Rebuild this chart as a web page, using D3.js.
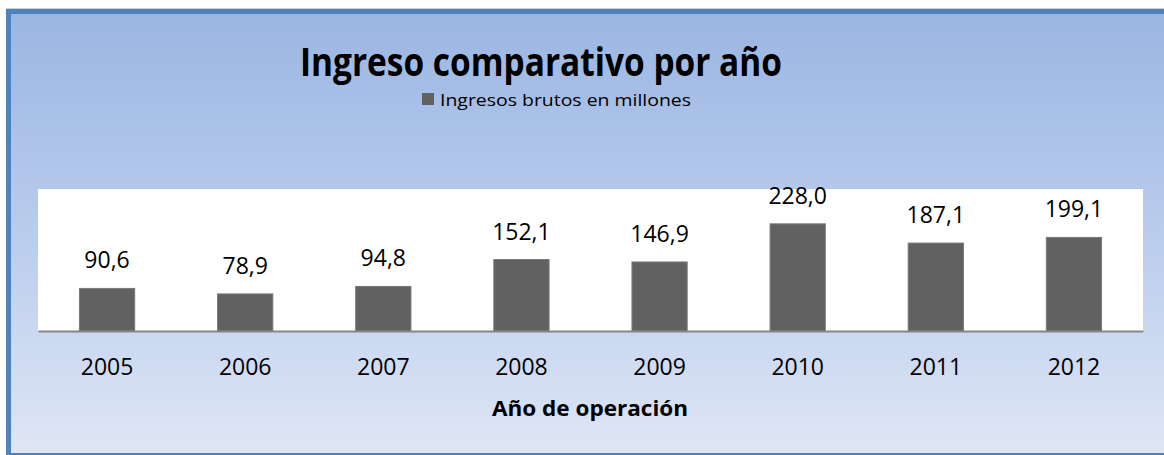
<!DOCTYPE html>
<html>
<head>
<meta charset="utf-8">
<script src="https://cdn.jsdelivr.net/npm/d3@7"></script>
<style>
  html, body { margin: 0; padding: 0; background: #fff; }
  svg { display: block; }
</style>
</head>
<body>
<div id="chart"></div>
<script>
const years = ["2005", "2006", "2007", "2008", "2009", "2010", "2011", "2012"];
const ingresos = [90.6, 78.9, 94.8, 152.1, 146.9, 228.0, 187.1, 199.1];
const yMax = 300;

const chartTitle = "Ingreso comparativo por año";
const seriesName = "Ingresos brutos en millones";
const xTitle = "Año de operación";

const width = 1164;
const height = 455;
const plot = { left: 38, right: 1143, top: 189, bottom: 331 };
const font = "'Open Sans', 'Noto Sans', sans-serif";
const barColor = "#616161";

const data = years.map((year, i) => ({ year, value: ingresos[i] }));

const svg = d3
  .select("#chart")
  .append("svg")
  .attr("width", width)
  .attr("height", height);

// background gradient like the Excel chart area
const grad = svg
  .append("defs")
  .append("linearGradient")
  .attr("id", "bg")
  .attr("x1", 0)
  .attr("y1", 0)
  .attr("x2", 0)
  .attr("y2", 1);
grad.append("stop").attr("offset", "0%").attr("stop-color", "#9bb6e2");
grad.append("stop").attr("offset", "45%").attr("stop-color", "#b6caec");
grad.append("stop").attr("offset", "100%").attr("stop-color", "#dfe6f5");

svg
  .append("line")
  .attr("x1", 6)
  .attr("x2", width)
  .attr("y1", 8.5)
  .attr("y2", 8.5)
  .attr("stroke", "#d0d0d0")
  .attr("stroke-width", 1);

svg
  .append("rect")
  .attr("x", 8.5)
  .attr("y", 11.5)
  .attr("width", 1170)
  .attr("height", 444)
  .attr("fill", "url(#bg)")
  .attr("stroke", "#4f81bd")
  .attr("stroke-width", 5);

svg
  .append("rect")
  .attr("x", plot.left)
  .attr("y", plot.top)
  .attr("width", plot.right - plot.left)
  .attr("height", plot.bottom - plot.top)
  .attr("fill", "#ffffff");

const x = d3
  .scaleBand()
  .domain(years)
  .range([plot.left, plot.right])
  .paddingInner(0.6)
  .paddingOuter(0.3);

const y = d3
  .scaleLinear()
  .domain([0, yMax])
  .range([plot.bottom, 190]);

svg
  .selectAll("rect.bar")
  .data(data)
  .enter()
  .append("rect")
  .attr("class", "bar")
  .attr("x", (d) => x(d.year))
  .attr("y", (d) => y(d.value))
  .attr("width", x.bandwidth())
  .attr("height", (d) => y(0) - y(d.value))
  .attr("fill", barColor)
  .attr("stroke", "#7a7a7a")
  .attr("stroke-width", 1);

svg
  .selectAll("text.val")
  .data(data)
  .enter()
  .append("text")
  .attr("class", "val")
  .attr("x", (d) => x(d.year) + x.bandwidth() / 2)
  .attr("y", (d) => y(d.value) - 20)
  .attr("text-anchor", "middle")
  .attr("font-family", font)
  .attr("font-size", 23)
  .attr("fill", "#000")
  .text((d) => d3.format(".1f")(d.value).replace(".", ","));

const xAxis = svg
  .append("g")
  .attr("transform", `translate(0,${plot.bottom})`)
  .call(d3.axisBottom(x).tickSize(0).tickSizeOuter(0));

xAxis.select(".domain").attr("stroke", "#868686").attr("stroke-width", 2);
xAxis
  .selectAll(".tick text")
  .attr("y", 44)
  .attr("dy", 0)
  .attr("font-family", font)
  .attr("font-size", 23)
  .attr("fill", "#000");

svg
  .append("text")
  .attr("x", 541)
  .attr("y", 76)
  .attr("text-anchor", "middle")
  .attr("font-family", font)
  .attr("font-weight", "bold")
  .attr("font-size", 39)
  .attr("textLength", 482)
  .attr("lengthAdjust", "spacingAndGlyphs")
  .text(chartTitle);

// legend
svg
  .append("rect")
  .attr("x", 422)
  .attr("y", 93)
  .attr("width", 12)
  .attr("height", 12)
  .attr("fill", barColor);

svg
  .append("text")
  .attr("x", 440)
  .attr("y", 106)
  .attr("font-family", font)
  .attr("font-size", 17)
  .attr("textLength", 251)
  .attr("lengthAdjust", "spacingAndGlyphs")
  .text(seriesName);

svg
  .append("text")
  .attr("x", 492)
  .attr("y", 416)
  .attr("font-family", font)
  .attr("font-weight", "bold")
  .attr("font-size", 21)
  .attr("textLength", 196)
  .attr("lengthAdjust", "spacingAndGlyphs")
  .text(xTitle);
</script>
</body>
</html>
